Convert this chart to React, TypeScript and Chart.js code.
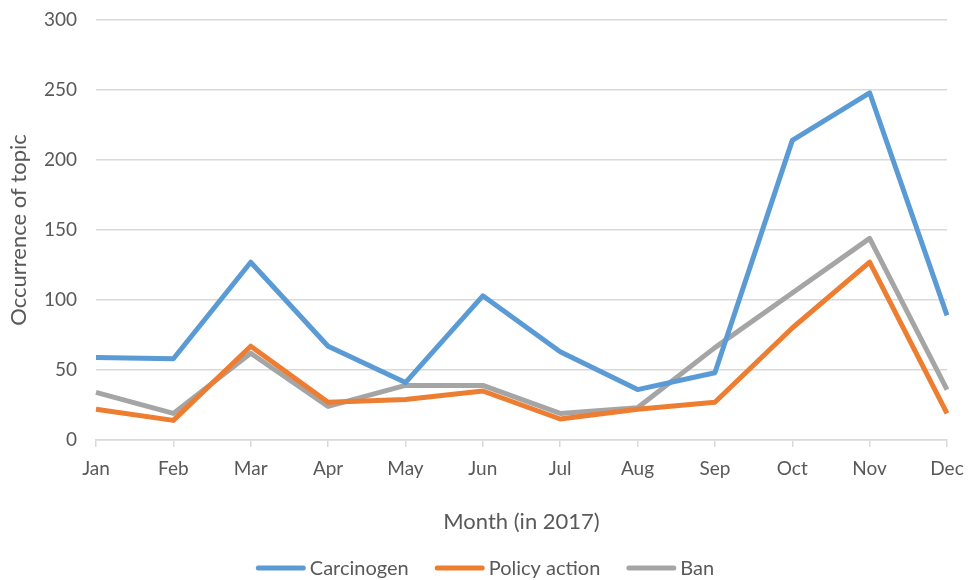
import React, { useEffect, useRef } from "react";
import { Chart, registerables } from "chart.js";

Chart.register(...registerables);

const months = ["Jan", "Feb", "Mar", "Apr", "May", "Jun", "Jul", "Aug", "Sep", "Oct", "Nov", "Dec"];
const carcinogen = [59, 58, 127, 67, 41, 103, 63, 36, 48, 214, 248, 89];
const policyAction = [22, 14, 67, 27, 29, 35, 15, 22, 27, 80, 127, 19];
const ban = [34, 19, 62, 24, 39, 39, 19, 23, 66, 105, 144, 36];
const seriesNames = ["Carcinogen", "Policy action", "Ban"];
const seriesColors = ["#5B9BD5", "#ED7D31", "#A5A5A5"];

const FONT = "Lato, 'Open Sans', sans-serif";
const TEXT = "#595959";

const bottomLegend = {
  id: "bottomLegend",
  afterDraw(chart: any) {
    const ctx = chart.ctx;
    const boxW = 50;
    const boxH = 5;
    const gapText = 4;
    const gapItem = 26;
    ctx.save();
    ctx.font = `20px ${FONT}`;
    const items = chart.data.datasets.map((ds: any) => ({
      label: ds.label,
      color: ds.borderColor,
      w: ctx.measureText(ds.label).width,
    }));
    const total = items.reduce((s: number, it: any) => s + boxW + gapText + it.w, 0) + gapItem * (items.length - 1);
    let x = chart.width / 2 - total / 2 + 1;
    const y = 568;
    ctx.textBaseline = "middle";
    ctx.textAlign = "left";
    for (const it of items) {
      ctx.beginPath();
      ctx.lineCap = "round";
      ctx.strokeStyle = it.color;
      ctx.lineWidth = boxH;
      ctx.moveTo(x + boxH / 2, y);
      ctx.lineTo(x + boxW - boxH / 2, y);
      ctx.stroke();
      x += boxW + gapText;
      ctx.fillStyle = TEXT;
      ctx.fillText(it.label, x, y + 1);
      x += it.w + gapItem;
    }
    ctx.restore();
  },
};

export default function App() {
  const ref = useRef<HTMLCanvasElement | null>(null);
  useEffect(() => {
    document.body.style.margin = "0";
    const ctx = ref.current!;
    const values = [carcinogen, policyAction, ban];
    const chart = new Chart(ctx, {
      type: "line",
      data: {
        labels: months,
        datasets: seriesNames.map((name, i) => ({
          label: name,
          data: values[i],
          borderColor: seriesColors[i],
          backgroundColor: seriesColors[i],
          borderWidth: 5,
          borderJoinStyle: "round" as const,
          pointRadius: 0,
          tension: 0,
          fill: false,
        })),
      },
      options: {
        animation: false,
        responsive: false,
        maintainAspectRatio: false,
        layout: { padding: { left: 0, right: 21, top: 20, bottom: 38 } },
        plugins: {
          tooltip: { enabled: false },
          legend: { display: false },
        },
        scales: {
          x: {
            offset: false,
            afterFit: (s: any) => {
              s.height = 102;
              s.paddingLeft = 0;
              s.paddingRight = 0;
            },
            grid: { display: true, drawOnChartArea: false, drawTicks: true, tickLength: 7, color: "#D9D9D9", lineWidth: 1.5 },
            border: { display: true, color: "#D9D9D9", width: 1.5 },
            ticks: { color: TEXT, font: { family: FONT, size: 19 }, padding: 10, maxRotation: 0, autoSkip: false },
            title: { display: true, text: "Month (in 2017)", color: TEXT, font: { family: FONT, size: 22 }, padding: { top: 0, bottom: 7 } },
          },
          y: {
            min: 0,
            max: 300,
            afterFit: (s: any) => {
              s.width = 96;
              s.paddingTop = 0;
              s.paddingBottom = 0;
            },
            ticks: { stepSize: 50, color: TEXT, font: { family: FONT, size: 19 }, padding: 19 },
            grid: { color: "#D9D9D9", lineWidth: 1.5, drawTicks: false },
            border: { display: false },
            title: { display: true, text: "Occurrence of topic", color: TEXT, font: { family: FONT, size: 22 }, padding: { top: 6, bottom: 0 } },
          },
        },
      },
      plugins: [bottomLegend],
    });
    return () => chart.destroy();
  }, []);
  return (
    <div style={{ width: 968, height: 580, background: "#fff" }}>
      <canvas ref={ref} width={968} height={580} />
    </div>
  );
}
